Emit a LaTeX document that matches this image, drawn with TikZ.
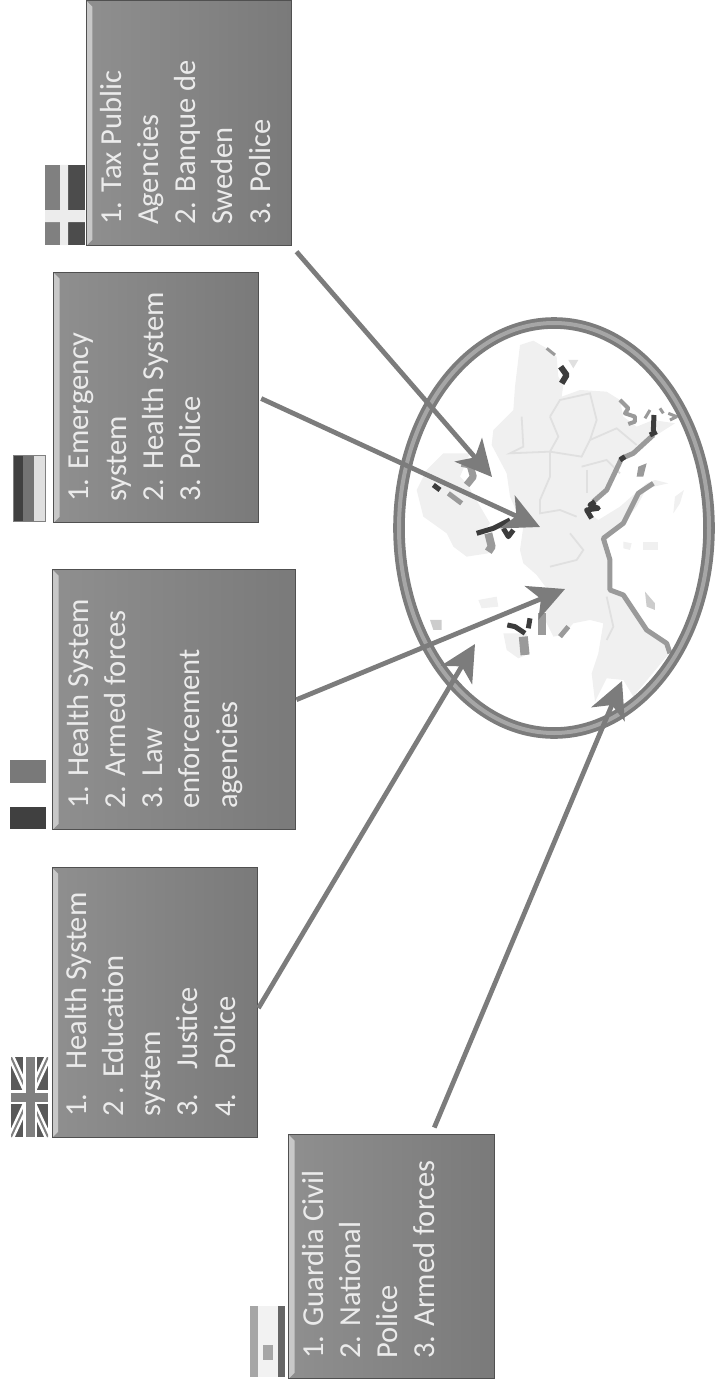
\documentclass[tikz,border=0pt]{standalone}
\usepackage{fontspec}
\setmainfont{Carlito}
\usepackage{xcolor}
\usetikzlibrary{arrows.meta,shapes.geometric}
\definecolor{boxleft}{HTML}{8F8F8F}
\definecolor{boxright}{HTML}{7A7A7A}
\definecolor{boxedge}{HTML}{505050}
\definecolor{bevel}{HTML}{C8C8C8}
\definecolor{arrowgray}{HTML}{7C7C7C}
\definecolor{landgray}{HTML}{F0F0F0}
\definecolor{bordergray}{HTML}{E0E0E0}
\definecolor{coastgray}{HTML}{9A9A9A}
\definecolor{coastdark}{HTML}{3C3C3C}
\begin{document}
\begin{tikzpicture}[x=1pt,y=-1pt,
  govbox/.style={anchor=north west,draw=boxedge,line width=1.4pt,left color=boxleft,right color=boxright,
    minimum width=#1,inner sep=0pt,
    path picture={
      \fill[bevel] (path picture bounding box.north west) -- ++(6,6) -- ([xshift=6pt,yshift=6pt]path picture bounding box.south west) -- (path picture bounding box.south west) -- cycle;}},
  govtext/.style={anchor=north west,rotate=90,align=left,inner sep=0pt,text=white!92!black,
    font=\fontsize{30.5}{37.2}\selectfont,execute at begin node=\strut},
  arr/.style={-{Stealth[length=36pt,width=36pt,inset=10pt]},arrowgray,line width=4.8pt,shorten <=7pt},
  land/.style={fill=landgray,draw=none},
  inner/.style={bordergray,line width=1.8pt},
  coast/.style={coastgray,line width=5pt,line join=round},
  dark/.style={coastdark,line width=5pt,line join=round}]
  \useasboundingbox (0,0) rectangle (715,1391);
  % map, traced over the crop: north is to the left
  \begin{scope}[shift={(390,320)},x=0.3333pt,y=-0.3333pt]
    \fill[land] (390,75)--(430,62)--(470,85)--(500,110)--(505,170)--(520,195)--(515,230)--(570,210)--(650,215)
      --(690,240)--(700,290)--(740,320)--(790,300)--(855,310)--(800,345)--(750,385)--(700,410)--(670,460)
      --(640,520)--(600,550)--(590,575)--(625,600)--(690,560)--(770,490)--(795,480)--(835,490)--(770,505)
      --(740,560)--(700,610)--(650,660)--(640,680)--(660,720)--(660,810)--(700,825)--(770,930)--(830,970)
      --(842,995)--(730,1130)--(700,1080)--(650,1075)--(615,1145)--(605,1060)--(625,1000)--(640,910)
      --(600,900)--(550,910)--(520,945)--(490,950)--(465,900)--(470,805)--(440,765)--(400,730)--(390,690)
      --(400,620)--(360,530)--(350,460)--(305,375)--(310,330)--(370,270)--(375,200)--cycle;
    % scandinavia
    \fill[land] (240,400)--(160,400)--(110,450)--(80,510)--(100,590)--(170,640)--(190,680)--(230,710)
      --(295,700)--(310,670)--(280,640)--(300,610)--(230,490)--(210,470)--cycle;
    % isles
    \fill[land] (340,940)--(410,940)--(420,1000)--(385,1015)--(350,990)--cycle;
    \fill[land] (265,840)--(320,830)--(325,860)--(275,865)--cycle;
    \fill[landgray!85!black] (120,900)--(155,900)--(155,930)--(130,930)--cycle;
    \fill[land] (855,530)--(882,510)--(870,550)--(850,580)--cycle;
    \fill[land] (700,665)--(725,670)--(720,690)--(700,685)--cycle;
    \fill[land] (760,665)--(805,665)--(805,690)--(760,690)--cycle;
    \fill[landgray!85!black] (765,815)--(795,850)--(795,870)--(770,860)--cycle;
    % inner borders
    \draw[inner] (395,290)--(400,380)--(360,400)--(480,395)--(575,410)--(600,360)--(680,325)--(740,375);
    \draw[inner] (480,290)--(510,240)--(600,220)--(620,300)--(600,360);
    \draw[inner] (480,290)--(505,350)--(480,395)--(480,470)--(450,540)--(450,580)--(510,570)--(560,590);
    \draw[inner] (575,440)--(650,420)--(690,460);
    \draw[inner] (590,450)--(590,520);
    \draw[inner] (540,640)--(580,690)--(560,720)--(480,740);
    \draw[inner] (650,830)--(670,920)--(650,960);
    % coasts
    \draw[coast] (790,490)--(745,520)--(700,610)--(640,655)--(660,720)--(660,810)--(700,825)--(770,930)--(830,970)--(840,1000);
    \draw[coast] (790,345)--(730,400)--(695,415)--(650,510)--(610,545);
    \draw[dark] (800,335)--(780,345) (705,410)--(690,420) (615,545)--(600,555)--(625,565)--(590,570)--(605,595);
    \draw[dark] (792,285)--(790,335);
    \draw[coast,line width=4pt] (690,240)--(715,265)--(705,280)--(735,290)--(735,305)--(715,312);
    \draw[coast,line width=3pt] (765,295)--(780,270) (810,265)--(820,280) (835,280)--(860,290)--(840,300);
    \fill[coastgray] (745,440)--(770,430)--(760,470)--(740,470)--cycle;
    \draw[dark,line width=6pt] (512,140)--(530,165)--(515,190);
    \draw[coast,line width=3pt] (470,85)--(495,105);
    \fill[bordergray] (535,120)--(565,120)--(550,145)--cycle;
    \draw[dark] (130,495)--(150,510);
    \draw[coast] (175,520)--(215,550);
    \draw[coast,line width=7pt] (215,430)--(240,435)--(250,470)--(230,495);
    \draw[dark] (260,640)--(310,625)--(360,600) (340,625)--(355,650)--(370,630);
    \draw[coast,line width=8pt] (295,640)--(305,680)--(295,695);
    \draw[dark] (352,915)--(375,920)--(405,940);
    \draw[dark] (420,895)--(415,925);
    \draw[coast,line width=8pt] (455,880)--(455,945);
    \draw[coast,line width=9pt] (400,950)--(405,1005);
    \draw[coast,line width=5pt] (510,950)--(535,920);
  \end{scope}
  % ring round the map
  \node[ellipse,draw=arrowgray,double=gray!70,line width=3.8pt,double distance=4pt,
    minimum width=310pt,minimum height=410pt,inner sep=0pt] (ring) at (554,528) {};
  % boxes
  \node[govbox=204.8pt,minimum height=245pt] (boxSweden) at (85.7,0) {};
  \node[govbox=205pt,minimum height=250pt] (boxNetherlands) at (53,272) {};
  \node[govbox=243pt,minimum height=260pt] (boxFrance) at (52,569) {};
  \node[govbox=205.5pt,minimum height=270pt] (boxUK) at (51.5,867) {};
  \node[govbox=206pt,minimum height=244pt] (boxSpain) at (288,1134) {};
  % texts: rotated, first line towards the left
  \node[govtext] (textSweden) at (100,225) {1. Tax Public\\Agencies\\2. Banque de\\Sweden\\3. Police};
  \node[govtext] (textNetherlands) at (69,502) {1. Emergency\\system\\2. Health System\\3. Police};
  \node[govtext] (textFrance) at (67,809) {1. Health System\\2. Armed forces\\3. Law\\enforcement\\agencies};
  \node[govtext] (textUK) at (65,1117) {1.\hspace{24pt}Health System\\2 . Education\\system\\3.\hspace{24pt}Justice\\4.\hspace{24pt}Police};
  \node[govtext] (textSpain) at (302,1359) {1. Guardia Civil\\2. National\\Police\\3. Armed forces};
  % flags
  \fill[black!50] (45,165) rectangle (60,245);
  \fill[black!70] (60,165) rectangle (85,245);
  \fill[gray!15] (60,165) rectangle (68,245) (45,210) rectangle (85,222);
  \fill[black!75] (13,455) rectangle (23,521);
  \fill[black!55] (23,455) rectangle (34,521);
  \fill[gray!25] (34,455) rectangle (45,521);
  \draw[gray,line width=0.8pt] (13,455) rectangle (45,521);
  \fill[gray!95!black] (10,760) rectangle (46,783);
  \fill[black!75] (10,807) rectangle (46,829);
  \begin{scope}
    \clip (11,1057) rectangle (48,1137);
    \fill[black!65] (11,1057) rectangle (48,1137);
    \draw[white,line width=7pt] (11,1057)--(48,1137) (48,1057)--(11,1137);
    \draw[gray,line width=2pt] (11,1057)--(48,1137) (48,1057)--(11,1137);
    \draw[white,line width=14pt] (30,1057)--(30,1137) (11,1097)--(48,1097);
    \draw[black!50,line width=9pt] (30,1057)--(30,1137) (11,1097)--(48,1097);
  \end{scope}
  \fill[gray!70] (250,1306) rectangle (258,1377);
  \fill[gray!10] (258,1306) rectangle (278,1377);
  \fill[black!60] (278,1306) rectangle (285,1377);
  \fill[gray!70] (263,1345) rectangle (273,1360);
  % arrows to the map
  \coordinate (tipSweden) at (492,477);
  \coordinate (tipNetherlands) at (540,527);
  \coordinate (tipFrance) at (565,589);
  \coordinate (tipUK) at (475,644);
  \coordinate (tipSpain) at (622,681);
  \draw[arr] (boxSweden.south east)--(tipSweden);
  \draw[arr,shorten <=2pt] (boxNetherlands.east)--(tipNetherlands);
  \draw[arr,shorten <=0pt] (boxFrance.east)--(tipFrance);
  \draw[arr,shorten <=0pt] (boxUK.-3)--(tipUK);
  \draw[arr] (boxSpain.72)--(tipSpain);
\end{tikzpicture}
\end{document}
